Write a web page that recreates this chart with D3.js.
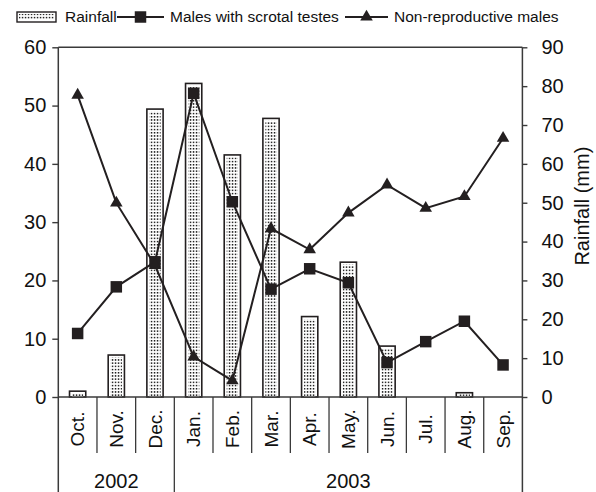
<!DOCTYPE html>
<html>
<head>
<meta charset="utf-8">
<script src="https://cdn.jsdelivr.net/npm/d3@7"></script>
<style>
  html, body { margin: 0; padding: 0; background: #fff; }
  svg { display: block; font-family: "Liberation Sans", Arial, Helvetica, sans-serif; }
</style>
</head>
<body>
<svg id="chart" width="596" height="492"></svg>
<script>
// ---- data ----
const months = ["Oct.","Nov.","Dec.","Jan.","Feb.","Mar.","Apr.","May.","Jun.","Jul.","Aug.","Sep."];
const years = ["2002","2003"];
const yearMonthCounts = [3, 9];
const rainfall = [1.5, 10.8, 74.1, 80.7, 62.3, 71.7, 20.7, 34.7, 13.1, 0, 1.1, 0];
const scrotalMales = [10.9, 18.9, 23.2, 52.1, 33.5, 18.5, 22.0, 19.6, 5.9, 9.5, 13.0, 5.5];
const nonReproMales = [51.8, 33.3, 22.6, 6.9, 2.8, 28.9, 25.3, 31.6, 36.4, 32.4, 34.4, 44.4];
const leftTicks = [0, 10, 20, 30, 40, 50, 60];
const rightTicks = [0, 10, 20, 30, 40, 50, 60, 70, 80, 90];
const legendLabels = ["Rainfall", "Males with scrotal testes", "Non-reproductive males"];
const rightTitle = "Rainfall (mm)";

// ---- layout ----
const svg = d3.select("#chart");
const plotL = 58.3, plotR = 522.4, plotT = 47.3, plotB = 397;
const monthDivB = 453, bottomB = 492;
const ink = "#231f20", axisInk = "#3a3a3a";

const x = d3.scaleBand().domain(months).range([plotL, plotR]).paddingInner(0).paddingOuter(0);
const yL = d3.scaleLinear().domain([0, 60]).range([plotB, plotT]);
const yR = d3.scaleLinear().domain([0, 90]).range([plotB, plotT]);

// pattern
const defs = svg.append("defs");
const pat = defs.append("pattern").attr("id", "dots")
  .attr("patternUnits", "userSpaceOnUse").attr("width", 3).attr("height", 3.2);
pat.append("rect").attr("width", 3).attr("height", 3.2).attr("fill", "#fff");
pat.append("rect").attr("x", 0.8).attr("y", 0.8).attr("width", 1.5).attr("height", 1.5).attr("fill", "#1a1a1a");

// bars (rainfall, right axis)
const barW = x.bandwidth() * 0.42;
const bars = svg.append("g");
rainfall.forEach((v, i) => {
  if (v <= 0) return;
  const cx = x(months[i]) + x.bandwidth() / 2;
  const top = yR(v), h = plotB - top;
  bars.append("rect").attr("x", cx - barW / 2).attr("y", top).attr("width", barW).attr("height", h)
    .attr("fill", "#fff").attr("stroke", ink).attr("stroke-width", 1.6);
  const inset = h > 5 ? 2.5 : 1.5;
  bars.append("rect").attr("x", cx - barW / 2 + 2.5).attr("y", top + inset)
    .attr("width", barW - 5).attr("height", Math.max(h - inset, 1))
    .attr("fill", "url(#dots)");
});

// frame lines
const frame = svg.append("g").attr("stroke", axisInk).attr("stroke-width", 1.5).attr("fill", "none");
frame.append("line").attr("x1", plotL).attr("x2", plotR).attr("y1", plotT).attr("y2", plotT);
frame.append("line").attr("x1", plotL).attr("x2", plotR).attr("y1", plotB).attr("y2", plotB);
frame.append("line").attr("x1", plotL).attr("x2", plotL).attr("y1", plotT).attr("y2", bottomB);
frame.append("line").attr("x1", plotR).attr("x2", plotR).attr("y1", plotT).attr("y2", bottomB);
// month dividers
let cum = 0;
const yearBoundaries = yearMonthCounts.map(c => (cum += c));
months.forEach((m, i) => {
  if (i === 0) return;
  const xx = x(m);
  const isYear = yearBoundaries.includes(i);
  frame.append("line").attr("x1", xx).attr("x2", xx).attr("y1", plotB).attr("y2", isYear ? bottomB : monthDivB)
    .attr("stroke-width", 1.3);
});

// left axis
const gL = svg.append("g").attr("transform", `translate(${plotL},0)`)
  .call(d3.axisLeft(yL).tickValues(leftTicks).tickSize(6).tickPadding(6).tickFormat(d3.format("d")));
gL.select(".domain").remove();
gL.selectAll(".tick line").attr("stroke", axisInk).attr("stroke-width", 1.4);
gL.selectAll(".tick text").attr("font-size", 20).attr("fill", "#111").attr("font-family", "Liberation Sans, Arial, sans-serif");

// right axis
const gR = svg.append("g").attr("transform", `translate(${plotR},0)`)
  .call(d3.axisRight(yR).tickValues(rightTicks).tickSize(5).tickPadding(14).tickFormat(d3.format("d")));
gR.select(".domain").remove();
gR.selectAll(".tick line").attr("stroke", axisInk).attr("stroke-width", 1.4);
gR.selectAll(".tick text").attr("font-size", 20).attr("fill", "#111").attr("font-family", "Liberation Sans, Arial, sans-serif");

svg.append("text").attr("transform", `translate(589,${(plotT + plotB) / 2 - 16}) rotate(-90)`)
  .attr("text-anchor", "middle").attr("font-size", 20).attr("fill", "#111").text(rightTitle);

// month labels
months.forEach(m => {
  const cx = x(m) + x.bandwidth() / 2;
  svg.append("text").attr("transform", `translate(${cx},429) rotate(-90)`)
    .attr("text-anchor", "middle").attr("dy", "0.35em").attr("font-size", 19).attr("fill", "#111").text(m);
});
// year labels
let start = 0;
years.forEach((yr, j) => {
  const a = x(months[start]);
  const b = x(months[start + yearMonthCounts[j] - 1]) + x.bandwidth();
  svg.append("text").attr("x", (a + b) / 2).attr("y", 488).attr("text-anchor", "middle")
    .attr("font-size", 20).attr("fill", "#111").text(yr);
  start += yearMonthCounts[j];
});

// lines
const line = d3.line().x((d, i) => x(months[i]) + x.bandwidth() / 2);
svg.append("path").datum(nonReproMales).attr("d", line.y(d => yL(d)))
  .attr("fill", "none").attr("stroke", ink).attr("stroke-width", 2);
svg.append("path").datum(scrotalMales).attr("d", line.y(d => yL(d)))
  .attr("fill", "none").attr("stroke", ink).attr("stroke-width", 2);

const sq = d3.symbol().type(d3.symbolSquare).size(132)();
const tri = d3.symbol().type(d3.symbolTriangle).size(68)();
scrotalMales.forEach((v, i) => {
  svg.append("path").attr("d", sq)
    .attr("transform", `translate(${x(months[i]) + x.bandwidth() / 2},${yL(v)})`).attr("fill", ink);
});
nonReproMales.forEach((v, i) => {
  svg.append("path").attr("d", tri)
    .attr("transform", `translate(${x(months[i]) + x.bandwidth() / 2},${yL(v)})`).attr("fill", ink);
});

// legend
const lg = svg.append("g").attr("font-size", 15.5).attr("fill", "#111");
const ly = 17;
lg.append("rect").attr("x", 17).attr("y", ly - 5).attr("width", 39).attr("height", 10)
  .attr("fill", "#fff").attr("stroke", ink).attr("stroke-width", 1.4);
lg.append("rect").attr("x", 19).attr("y", ly - 3).attr("width", 35).attr("height", 6).attr("fill", "url(#dots)");
lg.append("text").attr("x", 65).attr("y", ly).attr("dy", "0.35em").text(legendLabels[0]);
lg.append("line").attr("x1", 117).attr("x2", 164).attr("y1", ly).attr("y2", ly).attr("stroke", ink).attr("stroke-width", 2);
lg.append("path").attr("d", sq).attr("transform", `translate(140.5,${ly})`).attr("fill", ink);
lg.append("text").attr("x", 170).attr("y", ly).attr("dy", "0.35em").text(legendLabels[1]);
lg.append("line").attr("x1", 345).attr("x2", 388).attr("y1", ly).attr("y2", ly).attr("stroke", ink).attr("stroke-width", 2);
lg.append("path").attr("d", tri).attr("transform", `translate(366.5,${ly})`).attr("fill", ink);
lg.append("text").attr("x", 394).attr("y", ly).attr("dy", "0.35em").text(legendLabels[2]);
</script>
</body>
</html>
